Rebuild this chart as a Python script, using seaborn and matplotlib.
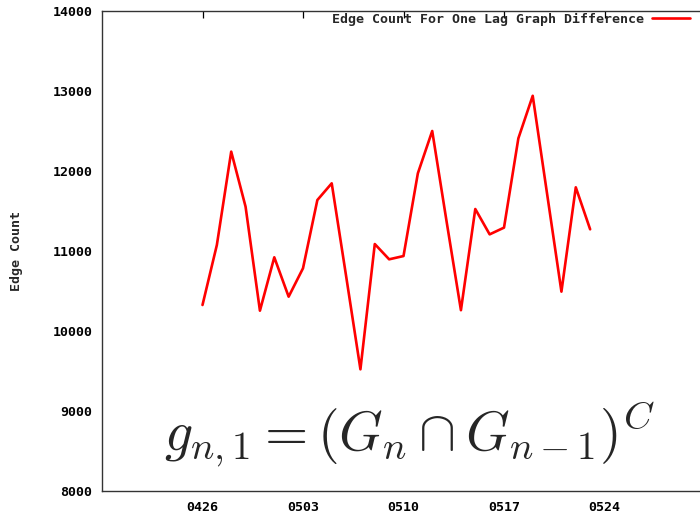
import matplotlib
matplotlib.use("Agg")
import matplotlib.pyplot as plt
import seaborn as sns
import pandas as pd

# Daily edge counts of the one-lag graph difference
dates = ["0426", "0427", "0428", "0429", "0430", "0501", "0502", "0503",
         "0504", "0505", "0506", "0507", "0508", "0509", "0510", "0511",
         "0512", "0513", "0514", "0515", "0516", "0517", "0518", "0519",
         "0520", "0521", "0522", "0523"]
edge_counts = [10325, 11075, 12242, 11554, 10254, 10921, 10429, 10784,
               11637, 11846, 10690, 9521, 11087, 10896, 10937, 11971,
               12500, 11370, 10260, 11525, 11208, 11292, 12408, 12940,
               11716, 10492, 11796, 11271]
tick_labels = ["0426", "0503", "0510", "0517", "0524"]
y_ticks = [8000, 9000, 10000, 11000, 12000, 13000, 14000]
series_name = "Edge Count For One Lag Graph Difference"

df = pd.DataFrame({
    "date": pd.to_datetime(dates, format="%m%d"),
    "edges": edge_counts,
})

sns.set_style("white")
mono = ["DejaVu Sans Mono"]

fig = plt.figure(figsize=(7.0, 5.16), dpi=100)
ax = fig.add_axes([102 / 700, 25 / 516, 603 / 700, 480 / 516])

sns.lineplot(data=df, x="date", y="edges", color="#ff0000", linewidth=1.9,
             ax=ax, label=series_name, legend=False)

ax.set_xlim(pd.Timestamp("1900-04-19"), pd.Timestamp("1900-05-31"))
ax.set_ylim(8000, 14000)
xt = pd.to_datetime(tick_labels, format="%m%d")
ax.set_xticks(xt)
ax.set_xticklabels(tick_labels)
ax.set_yticks(y_ticks)
ax.set_yticklabels([str(v) for v in y_ticks])

for lab in ax.get_xticklabels() + ax.get_yticklabels():
    lab.set_fontfamily(mono)
    lab.set_fontweight("bold")
    lab.set_fontsize(9.5)

ax.tick_params(direction="in", length=5, width=0.9, top=True, right=False,
               pad=7, colors="black")
for side in ["left", "bottom", "top", "right"]:
    ax.spines[side].set_color("#333333")
    ax.spines[side].set_linewidth(1.0)

ax.set_xlabel("")
ax.set_ylabel("Edge Count", fontfamily=mono, fontweight="bold", fontsize=9.5)
ax.yaxis.set_label_coords((23 - 102) / 603, 0.5)

handles, labels = ax.get_legend_handles_labels()
fig.legend(handles, labels, loc="upper right",
           bbox_to_anchor=(690 / 700, 1 - 13 / 516), frameon=False,
           markerfirst=False, handlelength=2.9, handletextpad=0.6,
           borderpad=0, borderaxespad=0,
           prop={"family": mono, "weight": "bold", "size": 9.5})

plt.rcParams["mathtext.fontset"] = "cm"
fig.text(410 / 700, 1 - 450 / 516, r"$g_{n,1} = (G_n \cap G_{n-1})^C$",
         ha="center", va="baseline", fontsize=40)

fig.savefig("out.png", dpi=100)
